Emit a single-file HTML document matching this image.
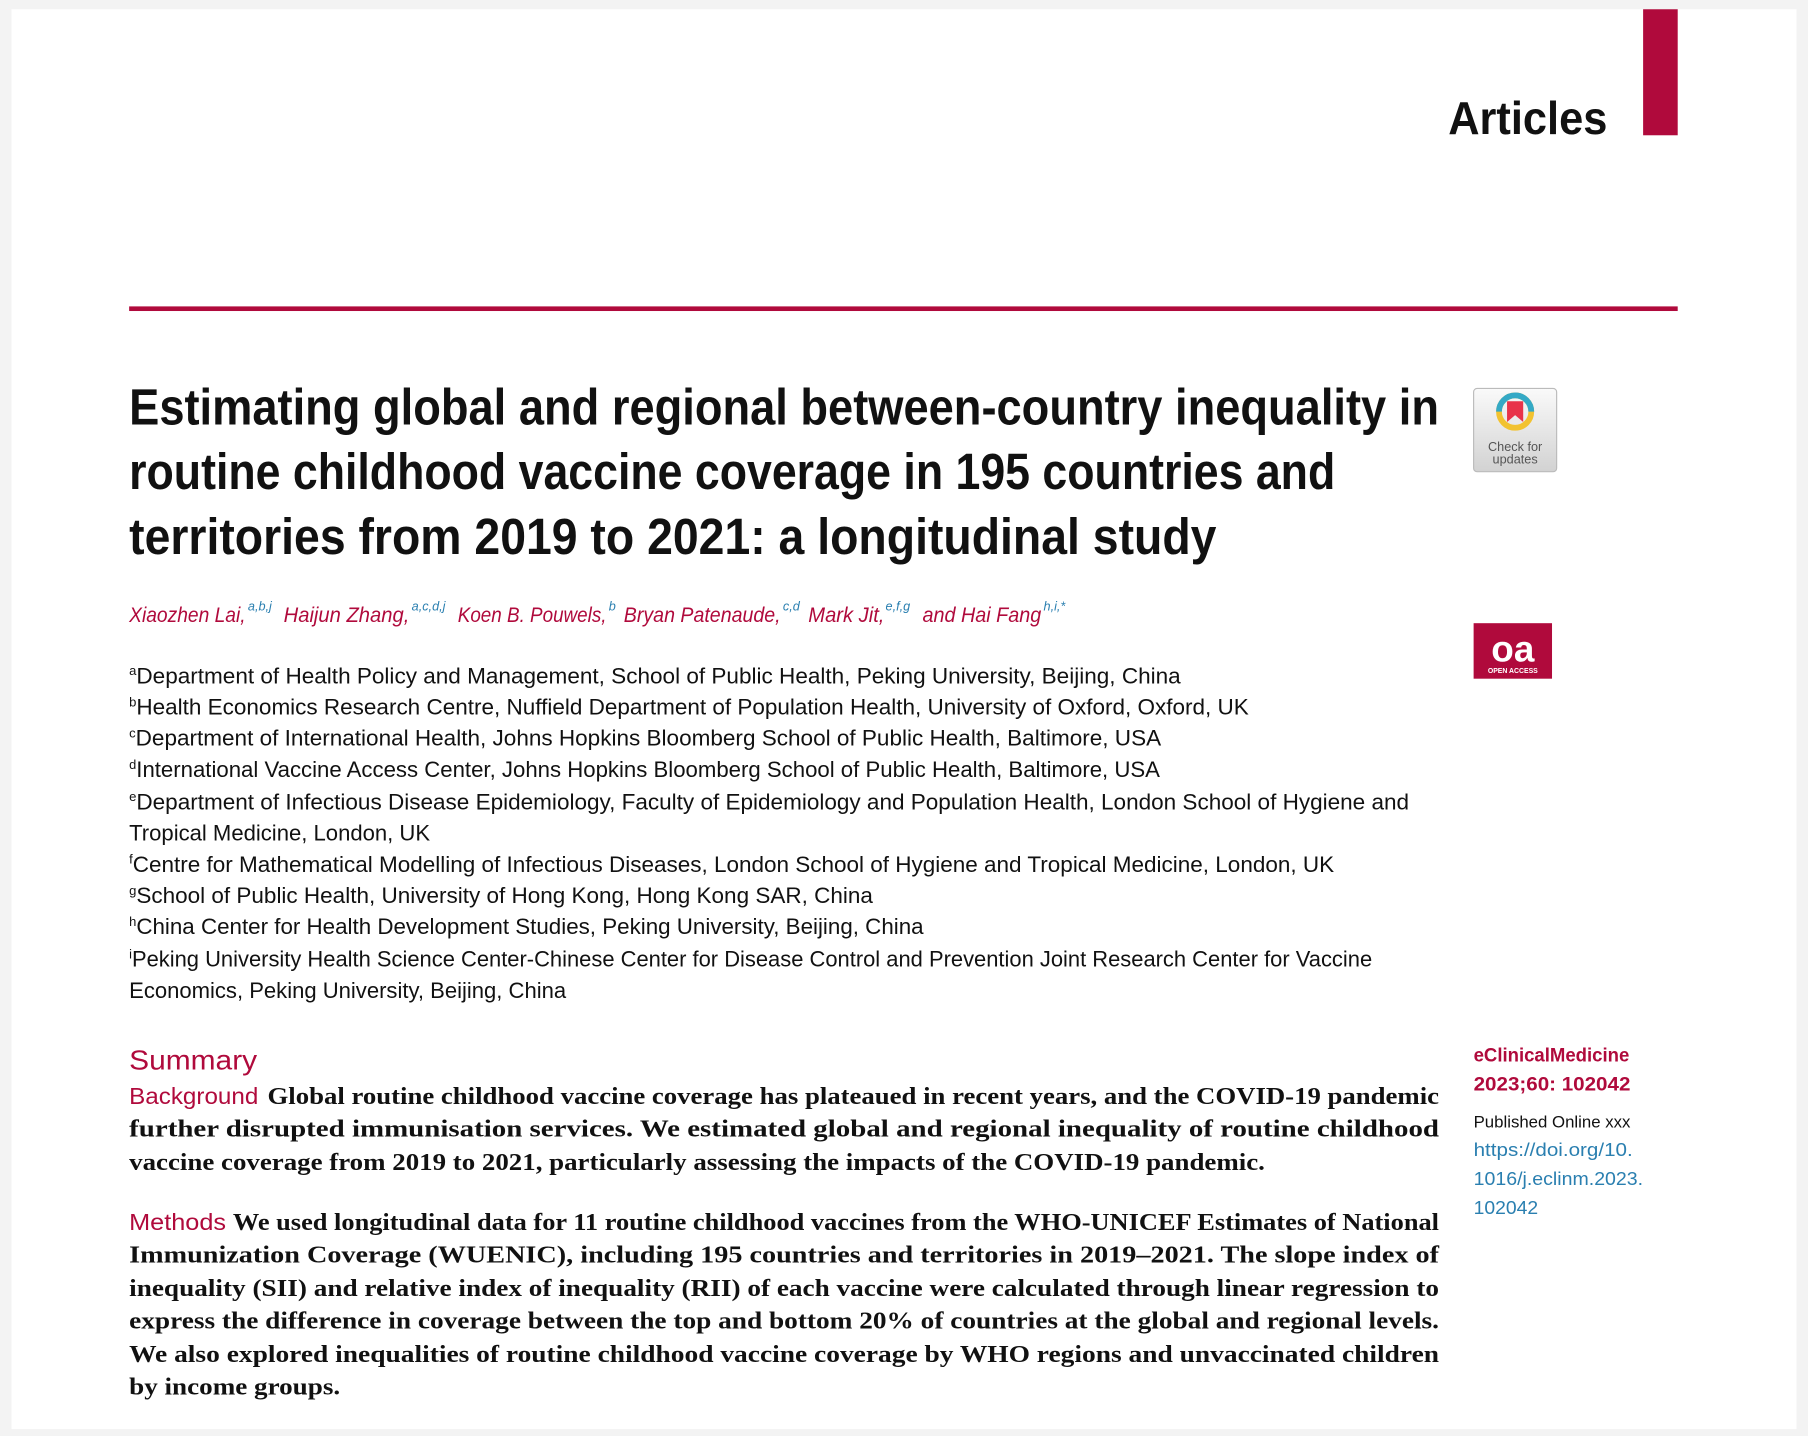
<!DOCTYPE html>
<html><head><meta charset="utf-8"><style>
html,body{margin:0;padding:0;background:#f3f3f3;}
svg{display:block}
.s{font-family:"Liberation Sans",sans-serif}
.r{font-family:"Liberation Serif",serif;font-weight:bold;font-size:21px;fill:#111}
.af{font-family:"Liberation Sans",sans-serif;font-size:19px;fill:#111}
.sup{font-size:11px}
.au{font-family:"Liberation Sans",sans-serif;font-style:italic;font-size:18.5px;fill:#b00a3c}
.as{font-family:"Liberation Sans",sans-serif;font-style:italic;font-size:11px;fill:#2a7fb0}
</style></head><body>
<svg width="1808" height="1436" viewBox="0 0 1568 1242" preserveAspectRatio="none" xmlns="http://www.w3.org/2000/svg">
<rect x="0" y="0" width="1568" height="1242" fill="#f3f3f3"/>
<rect x="10" y="8" width="1548" height="1228" fill="#fff"/>
<rect x="1425" y="8" width="30" height="109" fill="#b00a3c"/>
<text x="1256" y="116" class="s" font-size="40" font-weight="bold" textLength="138" lengthAdjust="spacingAndGlyphs" fill="#111">Articles</text>
<rect x="112" y="265" width="1343" height="4" fill="#b00a3c"/>

<g class="s" font-size="44" font-weight="bold" fill="#111">
<text x="112" y="367" textLength="1136" lengthAdjust="spacingAndGlyphs">Estimating global and regional between-country inequality in</text>
<text x="112" y="423" textLength="1046" lengthAdjust="spacingAndGlyphs">routine childhood vaccine coverage in 195 countries and</text>
<text x="112" y="479" textLength="943" lengthAdjust="spacingAndGlyphs">territories from 2019 to 2021: a longitudinal study</text>
</g>

<!-- check for updates -->
<defs><linearGradient id="g" x1="0" y1="0" x2="0" y2="1"><stop offset="0" stop-color="#fafafa"/><stop offset="1" stop-color="#d2d2d2"/></linearGradient></defs>
<rect x="1278" y="336" width="72" height="72" rx="3" fill="url(#g)" stroke="#bbb"/>
<circle cx="1314" cy="356" r="14" fill="none" stroke="#f2c230" stroke-width="5"/>
<path d="M1300 356 A14 14 0 0 1 1328 356" fill="none" stroke="#34a9c6" stroke-width="5"/>
<path d="M1307 347 h14 v18 l-7 -6 l-7 6z" fill="#e8334a"/>
<text x="1314" y="390" class="s" font-size="11" text-anchor="middle" fill="#555">Check for</text>
<text x="1314" y="401" class="s" font-size="11" text-anchor="middle" fill="#555">updates</text>

<!-- oa -->
<rect x="1278" y="539" width="68" height="48" fill="#b00a3c"/>
<text x="1312" y="572" class="s" font-size="32" font-weight="bold" text-anchor="middle" fill="#fff">oa</text>
<text x="1312" y="582" class="s" font-size="6" font-weight="bold" text-anchor="middle" fill="#fff">OPEN ACCESS</text>

<!-- authors -->
<text class="au" x="112" y="538" textLength="101" lengthAdjust="spacingAndGlyphs">Xiaozhen Lai,</text>
<text class="as" x="215" y="528">a,b,j</text>
<text class="au" x="246" y="538" textLength="109" lengthAdjust="spacingAndGlyphs">Haijun Zhang,</text>
<text class="as" x="357" y="528">a,c,d,j</text>
<text class="au" x="397" y="538" textLength="129" lengthAdjust="spacingAndGlyphs">Koen B. Pouwels,</text>
<text class="as" x="528" y="528">b</text>
<text class="au" x="541" y="538" textLength="136" lengthAdjust="spacingAndGlyphs">Bryan Patenaude,</text>
<text class="as" x="679" y="528">c,d</text>
<text class="au" x="701" y="538" textLength="66" lengthAdjust="spacingAndGlyphs">Mark Jit,</text>
<text class="as" x="768" y="528">e,f,g</text>
<text class="au" x="800" y="538" textLength="103" lengthAdjust="spacingAndGlyphs">and Hai Fang</text>
<text class="as" x="905" y="528">h,i,*</text>

<!-- affiliations -->
<g class="af">
<text x="112" y="591" textLength="912" lengthAdjust="spacingAndGlyphs"><tspan class="sup" dy="-7">a</tspan><tspan dy="7">Department of Health Policy and Management, School of Public Health, Peking University, Beijing, China</tspan></text>
<text x="112" y="618" textLength="971" lengthAdjust="spacingAndGlyphs"><tspan class="sup" dy="-7">b</tspan><tspan dy="7">Health Economics Research Centre, Nuffield Department of Population Health, University of Oxford, Oxford, UK</tspan></text>
<text x="112" y="645" textLength="895" lengthAdjust="spacingAndGlyphs"><tspan class="sup" dy="-7">c</tspan><tspan dy="7">Department of International Health, Johns Hopkins Bloomberg School of Public Health, Baltimore, USA</tspan></text>
<text x="112" y="672" textLength="894" lengthAdjust="spacingAndGlyphs"><tspan class="sup" dy="-7">d</tspan><tspan dy="7">International Vaccine Access Center, Johns Hopkins Bloomberg School of Public Health, Baltimore, USA</tspan></text>
<text x="112" y="700" textLength="1110" lengthAdjust="spacingAndGlyphs"><tspan class="sup" dy="-7">e</tspan><tspan dy="7">Department of Infectious Disease Epidemiology, Faculty of Epidemiology and Population Health, London School of Hygiene and</tspan></text>
<text x="112" y="727" textLength="261" lengthAdjust="spacingAndGlyphs">Tropical Medicine, London, UK</text>
<text x="112" y="754" textLength="1045" lengthAdjust="spacingAndGlyphs"><tspan class="sup" dy="-7">f</tspan><tspan dy="7">Centre for Mathematical Modelling of Infectious Diseases, London School of Hygiene and Tropical Medicine, London, UK</tspan></text>
<text x="112" y="781" textLength="645" lengthAdjust="spacingAndGlyphs"><tspan class="sup" dy="-7">g</tspan><tspan dy="7">School of Public Health, University of Hong Kong, Hong Kong SAR, China</tspan></text>
<text x="112" y="808" textLength="689" lengthAdjust="spacingAndGlyphs"><tspan class="sup" dy="-7">h</tspan><tspan dy="7">China Center for Health Development Studies, Peking University, Beijing, China</tspan></text>
<text x="112" y="836" textLength="1078" lengthAdjust="spacingAndGlyphs"><tspan class="sup" dy="-7">i</tspan><tspan dy="7">Peking University Health Science Center-Chinese Center for Disease Control and Prevention Joint Research Center for Vaccine</tspan></text>
<text x="112" y="863" textLength="379" lengthAdjust="spacingAndGlyphs">Economics, Peking University, Beijing, China</text>
</g>

<!-- summary -->
<text x="112" y="925" class="s" font-size="24" fill="#b00a3c" textLength="111" lengthAdjust="spacingAndGlyphs">Summary</text>
<text x="112" y="955" class="s" font-size="20" fill="#b00a3c" textLength="112" lengthAdjust="spacingAndGlyphs">Background</text>
<text x="232" y="955" class="r" textLength="1016" lengthAdjust="spacingAndGlyphs">Global routine childhood vaccine coverage has plateaued in recent years, and the COVID-19 pandemic</text>
<text x="112" y="983" class="r" textLength="1136" lengthAdjust="spacingAndGlyphs">further disrupted immunisation services. We estimated global and regional inequality of routine childhood</text>
<text x="112" y="1012" class="r" textLength="985" lengthAdjust="spacingAndGlyphs">vaccine coverage from 2019 to 2021, particularly assessing the impacts of the COVID-19 pandemic.</text>

<text x="112" y="1064" class="s" font-size="20" fill="#b00a3c" textLength="84" lengthAdjust="spacingAndGlyphs">Methods</text>
<text x="202" y="1064" class="r" textLength="1046" lengthAdjust="spacingAndGlyphs">We used longitudinal data for 11 routine childhood vaccines from the WHO-UNICEF Estimates of National</text>
<text x="112" y="1092" class="r" textLength="1136" lengthAdjust="spacingAndGlyphs">Immunization Coverage (WUENIC), including 195 countries and territories in 2019–2021. The slope index of</text>
<text x="112" y="1121" class="r" textLength="1136" lengthAdjust="spacingAndGlyphs">inequality (SII) and relative index of inequality (RII) of each vaccine were calculated through linear regression to</text>
<text x="112" y="1149" class="r" textLength="1136" lengthAdjust="spacingAndGlyphs">express the difference in coverage between the top and bottom 20% of countries at the global and regional levels.</text>
<text x="112" y="1178" class="r" textLength="1136" lengthAdjust="spacingAndGlyphs">We also explored inequalities of routine childhood vaccine coverage by WHO regions and unvaccinated children</text>
<text x="112" y="1206" class="r" textLength="183" lengthAdjust="spacingAndGlyphs">by income groups.</text>

<!-- right column -->
<text x="1278" y="918" class="s" font-size="17" font-weight="bold" fill="#b00a3c" textLength="135" lengthAdjust="spacingAndGlyphs">eClinicalMedicine</text>
<text x="1278" y="943" class="s" font-size="17" font-weight="bold" fill="#b00a3c" textLength="136" lengthAdjust="spacingAndGlyphs">2023;60: 102042</text>
<text x="1278" y="975" class="s" font-size="14" fill="#111" textLength="136" lengthAdjust="spacingAndGlyphs">Published Online xxx</text>
<text x="1278" y="1000" class="s" font-size="16" fill="#2a7fb0" textLength="138" lengthAdjust="spacingAndGlyphs">https://doi.org/10.</text>
<text x="1278" y="1025" class="s" font-size="16" fill="#2a7fb0" textLength="147" lengthAdjust="spacingAndGlyphs">1016/j.eclinm.2023.</text>
<text x="1278" y="1050" class="s" font-size="16" fill="#2a7fb0" textLength="56" lengthAdjust="spacingAndGlyphs">102042</text>
</svg>
</body></html>
